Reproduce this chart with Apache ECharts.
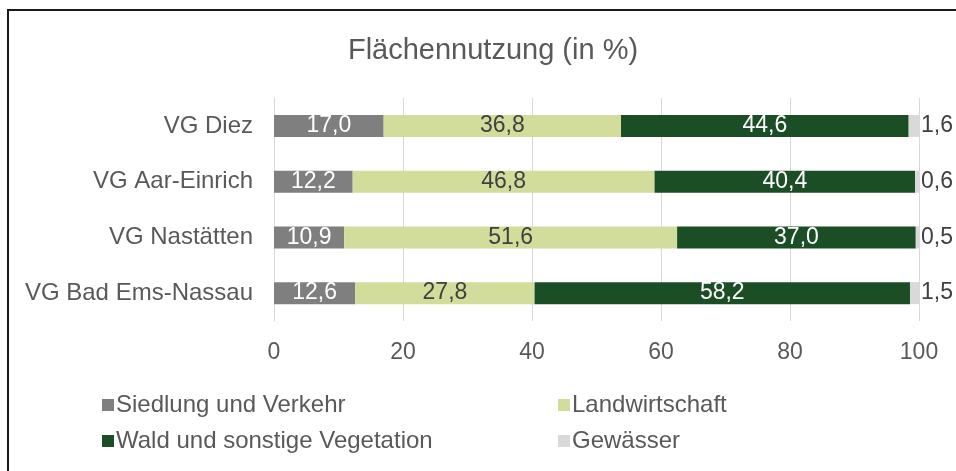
<!DOCTYPE html>
<html>
<head>
<meta charset="utf-8">
<script src="https://cdn.jsdelivr.net/npm/echarts@6/dist/echarts.min.js"></script>
<style>
  html, body { margin: 0; padding: 0; background: #fff; }
  #main { width: 956px; height: 471px; }
</style>
</head>
<body>
<div id="main"></div>
<script>
var regions = ['VG Diez', 'VG Aar-Einrich', 'VG Nastätten', 'VG Bad Ems-Nassau'];
var siedlung = [17.0, 12.2, 10.9, 12.6];
var landwirtschaft = [36.8, 46.8, 51.6, 27.8];
var wald = [44.6, 40.4, 37.0, 58.2];
var gewaesser = [1.6, 0.6, 0.5, 1.5];
var xTicks = [0, 20, 40, 60, 80, 100];

var chart = echarts.init(document.getElementById('main'));
var font = 'Liberation Sans, Arial, sans-serif';

function fmt(p) {
    return p.value.toFixed(1).replace('.', ',');
}

function barSeries(name, data, color, labelColor, pos) {
    return {
        name: name,
        type: 'bar',
        stack: 'total',
        data: data,
        barWidth: 22,
        itemStyle: { color: color },
        label: {
            show: true,
            position: pos || 'inside',
            distance: 2,
            formatter: fmt,
            color: labelColor,
            fontSize: 23,
            fontFamily: font
        }
    };
}

var option = {
    animation: false,
    backgroundColor: '#fff',
    title: {
        text: 'Flächennutzung (in %)',
        left: 488,
        textAlign: 'center',
        top: 31,
        textStyle: { fontFamily: font, fontSize: 29, fontWeight: 'normal', color: '#595959' }
    },
    grid: { left: 274, right: 37, top: 98, height: 223 },
    xAxis: {
        type: 'value',
        min: xTicks[0],
        max: xTicks[xTicks.length - 1],
        interval: 20,
        axisLine: { show: false },
        axisTick: { show: false },
        splitLine: { lineStyle: { color: '#d9d9d9', width: 1 } },
        axisLabel: { margin: 20, fontSize: 23, fontFamily: font, color: '#595959' }
    },
    yAxis: {
        type: 'category',
        data: regions,
        inverse: true,
        axisLine: { show: true, lineStyle: { color: '#d9d9d9' } },
        axisTick: { show: false },
        axisLabel: { margin: 21, fontSize: 24, fontFamily: font, color: '#595959' }
    },
    legend: [{
        orient: 'vertical',
        left: 97,
        top: 388,
        itemGap: 12,
        itemWidth: 12,
        itemHeight: 12,
        icon: 'rect',
        data: ['Siedlung und Verkehr', 'Wald und sonstige Vegetation'],
        textStyle: { fontFamily: font, fontSize: 24, color: '#595959', padding: [0, 0, 0, -3] }
    }, {
        orient: 'vertical',
        left: 553,
        top: 388,
        itemGap: 12,
        itemWidth: 12,
        itemHeight: 12,
        icon: 'rect',
        data: ['Landwirtschaft', 'Gewässer'],
        textStyle: { fontFamily: font, fontSize: 24, color: '#595959', padding: [0, 0, 0, -3] }
    }],
    graphic: [{
        type: 'polyline',
        shape: { points: [[8, 471], [8, 10], [956, 10]] },
        style: { stroke: '#1a1a1a', lineWidth: 2, fill: null }
    }],
    series: [
        barSeries('Siedlung und Verkehr', siedlung, '#7f7f7f', '#ffffff'),
        barSeries('Landwirtschaft', landwirtschaft, '#d2dd9b', '#404040'),
        barSeries('Wald und sonstige Vegetation', wald, '#1b4e25', '#ffffff'),
        barSeries('Gewässer', gewaesser, '#d9d9d9', '#404040', 'right')
    ]
};
chart.setOption(option);
</script>
</body>
</html>
